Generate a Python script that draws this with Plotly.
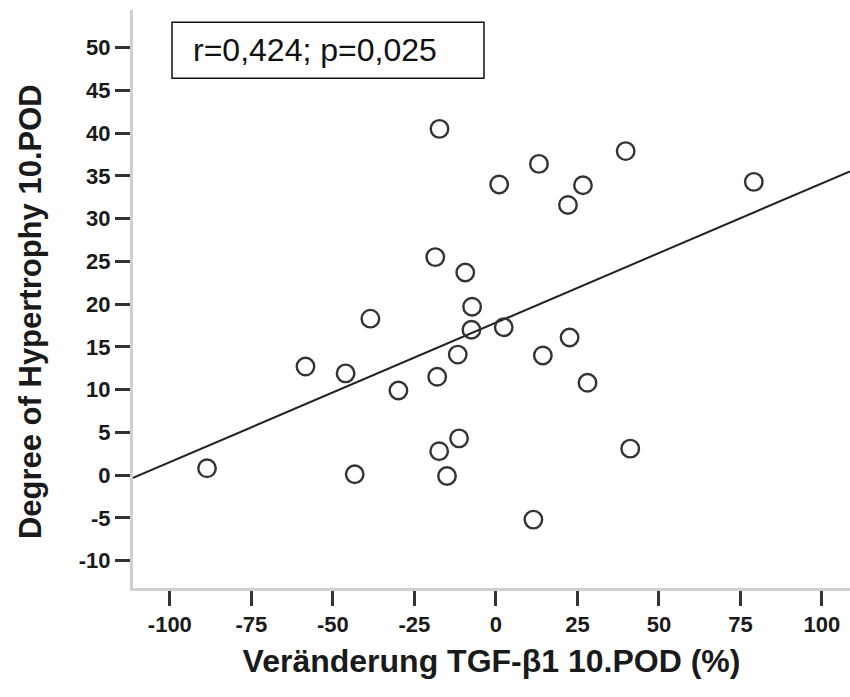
import numpy as np
import plotly.graph_objects as go

# Data
tgf_change = [-88.6, -58.4, -46.1, -43.3, -38.5, -29.9, -17.3, -18.6, -18.0, -17.4,
              -15.0, -11.7, -11.3, -9.4, -7.3, -7.5, 1.0, 2.4, 13.2, 14.4,
              22.1, 26.7, 22.6, 28.1, 39.8, 11.5, 41.2, 79.1]
hypertrophy = [0.8, 12.7, 11.9, 0.1, 18.3, 9.9, 40.5, 25.5, 11.5, 2.8,
               -0.1, 14.1, 4.3, 23.7, 19.7, 17.0, 34.0, 17.3, 36.4, 14.0,
               31.6, 33.9, 16.1, 10.8, 37.9, -5.2, 3.1, 34.3]
x_ticks = [-100, -75, -50, -25, 0, 25, 50, 75, 100]
y_ticks = [50, 45, 40, 35, 30, 25, 20, 15, 10, 5, 0, -5, -10]
stat_text = "r=0,424; p=0,025"
x_title = "Veränderung TGF-β1 10.POD (%)"
y_title = "Degree of Hypertrophy 10.POD"

x_range = [-111.3, 108.6]
y_range = [-13.2, 54.4]

slope, intercept = np.polyfit(tgf_change, hypertrophy, 1)
line_x = np.array(x_range)
line_y = intercept + slope * line_x

FONT = "Liberation Sans, Arial, sans-serif"

fig = go.Figure()
fig.add_trace(go.Scatter(
    x=line_x, y=line_y, mode="lines",
    line=dict(color="#222222", width=2), hoverinfo="skip", showlegend=False))
fig.add_trace(go.Scatter(
    x=tgf_change, y=hypertrophy, mode="markers",
    marker=dict(symbol="circle-open", size=17.5, color="#333333",
                line=dict(width=2.4, color="#333333")),
    showlegend=False))

fig.update_layout(
    width=850, height=697,
    margin=dict(l=133, r=0, t=10, b=109),
    paper_bgcolor="white", plot_bgcolor="white",
    font=dict(family=FONT, color="#1a1a1a"),
    xaxis=dict(
        range=x_range, tickmode="array", tickvals=x_ticks,
        ticktext=[str(v) for v in x_ticks],
        showgrid=False, zeroline=False,
        showline=True, linecolor="#cfcfcf", linewidth=3,
        ticks="outside", ticklen=15, tickwidth=2.5, tickcolor="#333333",
        tickfont=dict(family=FONT, size=22, color="#1a1a1a", weight="bold"),
        title=dict(text=x_title, standoff=14,
                   font=dict(family=FONT, size=32, color="#1a1a1a", weight="bold")),
    ),
    yaxis=dict(
        range=y_range, tickmode="array", tickvals=y_ticks,
        ticktext=[str(v) for v in y_ticks],
        showgrid=False, zeroline=False,
        showline=True, linecolor="#cfcfcf", linewidth=3,
        ticks="outside", ticklen=15, tickwidth=2.5, tickcolor="#333333",
        tickfont=dict(family=FONT, size=22, color="#1a1a1a", weight="bold"),
    ),
    shapes=[dict(type="rect", xref="paper", yref="paper",
                 x0=0.0544, x1=0.4895, y0=0.882, y1=0.979,
                 line=dict(color="#111111", width=1.5), fillcolor="white", layer="above")],
    annotations=[
        dict(text=stat_text, xref="paper", yref="paper",
             x=0.0809, y=0.931, xanchor="left", yanchor="middle",
             showarrow=False,
             font=dict(family=FONT, size=32, color="#111111")),
        dict(text=y_title, xref="paper", yref="paper",
             x=-0.1437, y=0.479, xanchor="center", yanchor="middle",
             textangle=-90, showarrow=False,
             font=dict(family=FONT, size=31, color="#1a1a1a", weight="bold")),
    ],
)

fig.write_html("out.html")
